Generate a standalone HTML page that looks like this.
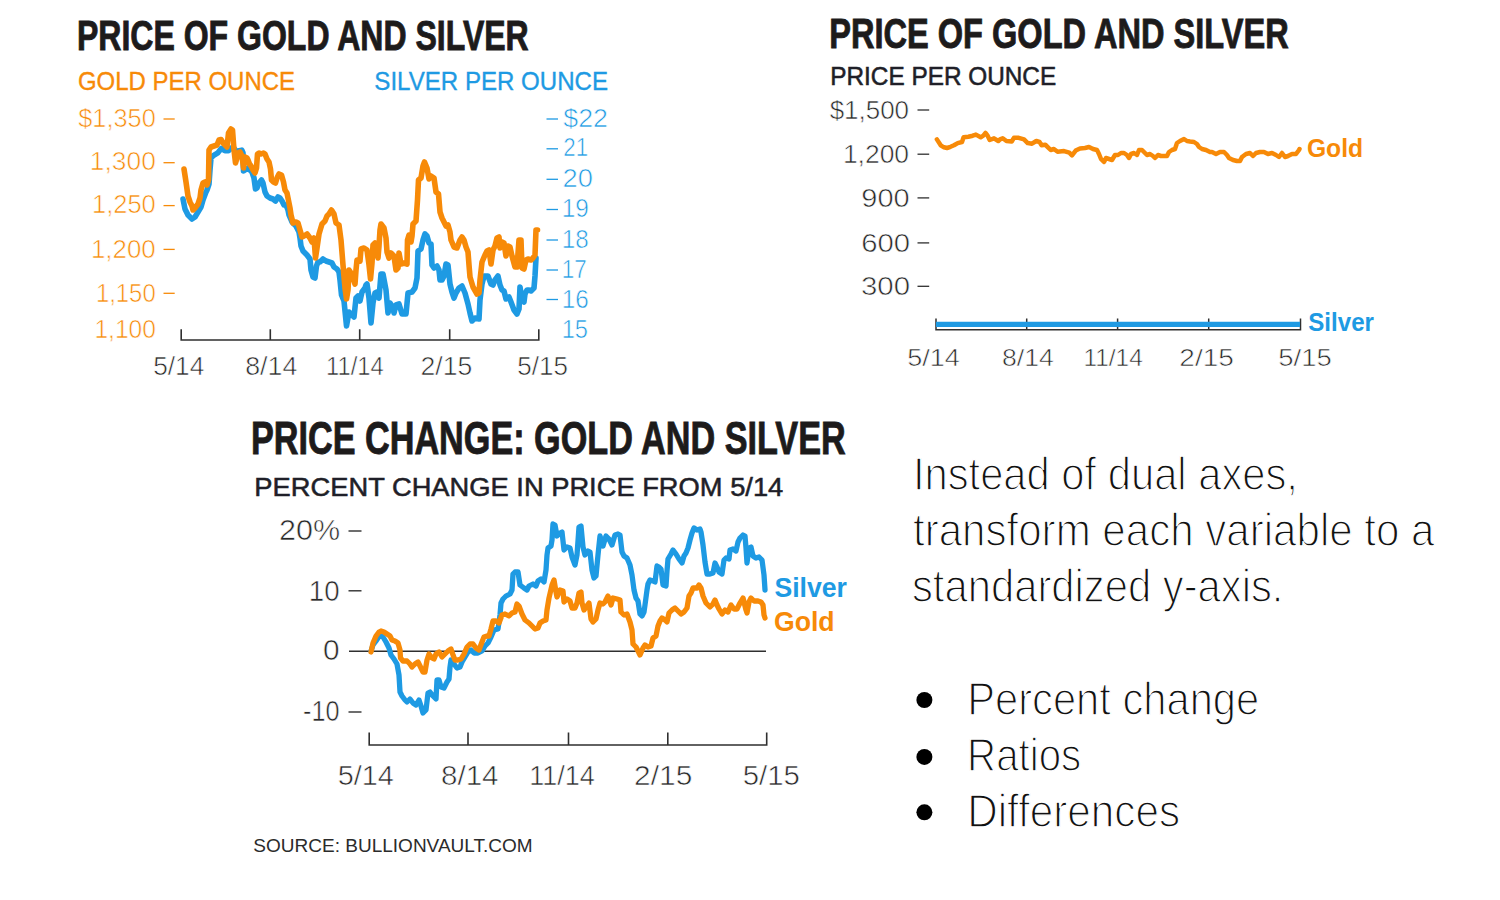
<!DOCTYPE html>
<html><head><meta charset="utf-8"><style>
html,body{margin:0;padding:0;background:#fff;width:1500px;height:900px;overflow:hidden}
svg{display:block}
text{font-family:"Liberation Sans",sans-serif}
.ttl{stroke:#1d1b1b;stroke-width:0.9}
.lt{stroke:#fff;stroke-width:1.4}
.thin{stroke:#fff;stroke-width:0.6}
.sub{stroke:#1f1f28;stroke-width:0.55}
.subo{stroke:#F78A08;stroke-width:0.35}
.subb{stroke:#1E9AE3;stroke-width:0.35}
</style></head><body>
<svg width="1500" height="900" viewBox="0 0 1500 900">
<rect width="1500" height="900" fill="#fff"/>
<line x1="163.5" y1="119" x2="174.7" y2="119" stroke="#F78A08" stroke-width="1.3"/>
<line x1="163.5" y1="162.7" x2="174.7" y2="162.7" stroke="#F78A08" stroke-width="1.3"/>
<line x1="163.5" y1="205.6" x2="174.7" y2="205.6" stroke="#F78A08" stroke-width="1.3"/>
<line x1="163.5" y1="249.4" x2="174.7" y2="249.4" stroke="#F78A08" stroke-width="1.3"/>
<line x1="163.5" y1="293.3" x2="174.7" y2="293.3" stroke="#F78A08" stroke-width="1.3"/>
<line x1="546.5" y1="119" x2="558" y2="119" stroke="#1E9AE3" stroke-width="1.3"/>
<line x1="546.5" y1="148.8" x2="558" y2="148.8" stroke="#1E9AE3" stroke-width="1.3"/>
<line x1="546.5" y1="179.3" x2="558" y2="179.3" stroke="#1E9AE3" stroke-width="1.3"/>
<line x1="546.5" y1="209.5" x2="558" y2="209.5" stroke="#1E9AE3" stroke-width="1.3"/>
<line x1="546.5" y1="240" x2="558" y2="240" stroke="#1E9AE3" stroke-width="1.3"/>
<line x1="546.5" y1="270" x2="558" y2="270" stroke="#1E9AE3" stroke-width="1.3"/>
<line x1="546.5" y1="299.5" x2="558" y2="299.5" stroke="#1E9AE3" stroke-width="1.3"/>
<path d="M181.2 329.2 V340 H538.8 V329.2 M270.3 329.2 V340 M359.7 329.2 V340 M449.7 329.2 V340" fill="none" stroke="#2f2f2f" stroke-width="1.6"/>
<polyline points="183,199 185,209 188,215 192,219 195,217 198,212 201,207 203,200 206,192 207,190 209,184 210,170 211,158 213.3,155.6 217.8,152.9 221.3,148.4 224.9,150.7 228.4,150.7 230.2,148.9 233,147 236,151 238,151 241.8,150.2 243,152.9 243.5,171 245,170 248,168 250,170 252,172 254,178 255.5,189 257,188 259,183 261.5,180 263,183 265,192 267,196 270,198 273,199 275.5,201 278,197 280,198 282,201 284,205 286,205 288,210 289,215 292,222 296,226 299,232 300,238 301,246 303,251 307,255 310,259 311,270 313,277 315,278 316.5,266 318,262 320,262 323,259 326,261 329,262 332,263 334,267 337,269 339,272 340,280 341.5,295 344,301 345.5,316 346.5,326 349,312 351,314 354,317 356,298 358,296 360,301 362,292 365,288 366,285 367,284 369,298 371,323 373,303 375,293 377,292 379,298 381,274 383,274 386,290 388,313 390,303 393,308 394,313 396,305 399,304 402,314 406,314 408,293 412,292 415,288 417,278 418,251 421,249 423,240 425,234 427,236 429,243 431,244 432,265 434,268 437,266 439,270 440,280 442,280 444,276 446,264 448,265 450,284 452,292 454,298 456,293 459,288 462,286 465,293 468,304 470,313 472,321 475,318 479,319 480,300 482,284 484,276 488,276 491,284 493,285 495,280 498,276 500,285 502,290 504,291 506,299 509,297 511,302 514,310 517,314 519,309 520,287 522,300 524,302 525,294 527,290 529,290 531,291 534,288 535,276 536,258" fill="none" stroke="#1E9AE3" stroke-width="5.6" stroke-linejoin="round" stroke-linecap="round"/>
<polyline points="184,169 186,182 188,196 190,202 192,206 193,210 195,208 198,204 200,198 201,190 203,183 205,182 207,185 208.5,180 209,150 211,147 214,146 217,145 219,140 221,139.5 223,143 225,145 227,147 228.5,133 231,129 232.5,130 234,150 235.5,163 237,158 238,153 240,152 242,156 243.5,168 245,157 247,158 248,160 249.5,164 251,166 253,170 255,173 256.5,168 257.5,154 259,153 261,154 263.5,153 265,154 267,159 269,162 270.5,169 271.5,180 273.5,182 275.5,183 277,178 279,174 281.5,175 283.5,182 285,190 287,193 288,198 290,208 291,215 293,223 296,222 298,223 300,230 302,237 304,236 307,234 310,238 312,242 314,238 315.5,258 317,248 319,234 322,224 325,221 327,216 329,214 331.5,210 334,214 336,223 339,225 341,240 343,265 345,288 346.5,299 348,290 349,270 351,273 353,278 355,284 356,270 357,260 360,261 361,249 364,248 367,250 369,265 370.5,279 372,263 373,245 375,243 378,258 379,246 380,230 381,224 384,228 386,238 387,252 389,258 391,253 394,256 396,270 398,268 399,253 401,264 404,263 407,264 407.5,240 409,235 411,242 412,236 413,224 416,221 417.5,200 418.5,180 421,178 423,166 424.5,162 427,168 429,179 431,176 434,178 436,192 438.5,194 440,212 442,218 444,222 446,226 448,225 450,232 451,240 454,247 457,248 460,240 462,237 464,240 466,247 468,252 469,265 470,277 473,287 477,294 479,293 480,280 482,262 485,255 487,251 489,250 491,264 493,250 495,246 497,238 499,237 500,248 502,242 504,243 506,256 508,246 510,247 512,256 515,267 517,267 519,240 521,240 522,268 524,269 526,260 528,259 531,260 533,258 535,255 536,230 537.5,230" fill="none" stroke="#F78A08" stroke-width="5.6" stroke-linejoin="round" stroke-linecap="round"/>
<line x1="917.5" y1="110" x2="929.2" y2="110" stroke="#2f2f2f" stroke-width="1.3"/>
<line x1="917.5" y1="154.2" x2="929.2" y2="154.2" stroke="#2f2f2f" stroke-width="1.3"/>
<line x1="917.5" y1="197.9" x2="929.2" y2="197.9" stroke="#2f2f2f" stroke-width="1.3"/>
<line x1="917.5" y1="242.9" x2="929.2" y2="242.9" stroke="#2f2f2f" stroke-width="1.3"/>
<line x1="917.5" y1="286.3" x2="929.2" y2="286.3" stroke="#2f2f2f" stroke-width="1.3"/>
<path d="M936 318.5 V329.7 H1300.5 V318.5 M1026.7 318.5 V329.7 M1117.6 318.5 V329.7 M1208.7 318.5 V329.7" fill="none" stroke="#2f2f2f" stroke-width="1.5"/>
<line x1="936" y1="324.4" x2="1300" y2="324.4" stroke="#1E9AE3" stroke-width="5.4"/>
<polyline points="936.9,139.4 940.7,145.3 944,147.3 947,148 950.5,146.8 954,145.3 957.7,143.1 962,142 963.6,137.3 968.4,136.7 972.7,135.7 975.9,134.6 980.7,137.3 983.3,135.7 985.5,133 987.6,135.7 989.7,140 994,138.3 998.3,141 1000,139.4 1002.7,138.3 1006.4,141 1011.7,141.5 1013.9,137.8 1018.7,137.8 1024,139.4 1027.7,143.1 1032,143.7 1036.3,141 1039.5,142 1041.6,145.3 1045.3,144.7 1048,147.4 1050.7,150 1053.9,149 1057.6,151.7 1064,151.1 1069.3,152.7 1072,155.4 1075.7,150.6 1080,148.5 1085,148 1089,147 1093,149 1097,150 1099,154 1101,159 1104,162 1106,158 1109,159 1112,160 1115,155 1118,155 1121,153 1124,153 1127,155 1129,158 1131,154 1134,153 1137,155 1139,150 1142,150 1145,153 1147,155 1150,154 1153,156 1155,158 1158,155 1161,156 1164,156 1167,156 1169,152 1172,150 1175,149 1177,143 1180,141 1184,139 1187,141 1190,141.5 1194,142 1197,144 1199,147 1202,149 1206,150 1210,152 1212,152 1216,154 1220,152 1224,152 1227,155 1229,158 1233,160 1237,161 1240,161 1242,157 1246,154 1250,153 1253,156 1256,153 1260,152 1264,152 1268,154 1272,153 1276,155 1279,157 1282,153 1285,157 1288,156 1292,154 1296,154 1299,150 1299.5,149" fill="none" stroke="#F78A08" stroke-width="4.5" stroke-linejoin="round" stroke-linecap="round"/>
<line x1="348.5" y1="531" x2="361.5" y2="531" stroke="#2f2f2f" stroke-width="1.4"/>
<line x1="348.5" y1="590.8" x2="361.5" y2="590.8" stroke="#2f2f2f" stroke-width="1.4"/>
<line x1="348.5" y1="712" x2="361.5" y2="712" stroke="#2f2f2f" stroke-width="1.4"/>
<line x1="349" y1="651.3" x2="766" y2="651.3" stroke="#2f2f2f" stroke-width="1.5"/>
<path d="M369.2 732.5 V745 H766.7 V732.5 M468 732.5 V745 M568.5 732.5 V745 M667.8 732.5 V745" fill="none" stroke="#2f2f2f" stroke-width="1.6"/>
<polyline points="371,651 373,645 376,641 380,635 383,637 386,642 389,648 391,655 394,659 397,664 399,675 400,692 402,696 405,700 407,702 410,699 413,703 416,705 419,700 421,706 423,713 426,710 428,693 430,692 433,696 436,699 437,680 439,680 441,687 444,688 447,682 449,679 450,667 451,660 454,664 457,668 460,667 462,662 465,657 468,652 471,650 474,653 478,653 482,651 485,646 488,643 491,637 494,630 498,629 500,615 501,603 503,599 506,596 510,594 512,590 513,574 515,572 518,572 520,585 524,588 527,590 529,586 533,584 536,586 538,581 541,579 544,582 546,570 547,555 548,548 551,546 552,540 553,524 555,525 557,536 560,533 562,532 564,550 567,547 570,548 572,557 575,565 577,555 579,527 581,526 583,547 585,555 588,551 590,552 592,570 594,578 596,576 598,555 600,536 603,546 606,536 609,539 612,545 615,535 618,534 620,535 622,552 624,556 627,558 630,565 632,575 634,590 636,598 638,601 640,614 642,616 644,612 645,605 647,590 648,584 650,580 653,581 655,582 657,566 659,567 661,569 663,585 666,586 667,571 668,559 671,554 673,550 676,554 679,559 682,563 684,556 686,553 688,548 690,540 692,533 694,528 697,530 700,529 701,532 703,545 705,562 707,574 710,574 713,573 715,563 717,567 719,572 722,574 724,560 726,558 729,559 730,550 733,549 736,551 738,542 740,538 743,535 745,536 746,548 747,563 749,548 751,547 753,556 756,558 759,557 762,560 764,575 765,590" fill="none" stroke="#1E9AE3" stroke-width="5.3" stroke-linejoin="round" stroke-linecap="round"/>
<polyline points="371,652 373,643 376,636 379,632 381,631 384,632 387,634 390,636 392,640 395,641 398,643 400,650 400.5,658 403,661 407,661 410,664 412,667 415,664 418,662 420,666 423,672 425,672 427,660 429,654 432,658 434,659 436,654 439,652 442,657 445,654 448,651 451,649 453,655 455,660 458,660 461,659 464,654 467,647 470,644 473,644 476,648 479,650 482,642 484,637 487,636 489,636 491,629 493,621 496,621 499,623 502,615 505,614 509,616 512,613 515,612 517,604 519,606 522,614 525,620 529,623 532,626 535,629 538,628 540,623 543,621 546,620 547,610 549,598 552,585 554,580 556,592 557,597 560,590 563,591 564,602 567,599 570,601 572,608 575,608 577,603 579,593 581,592 582,603 584,610 586,607 589,603 591,619 593,622 596,619 598,610 600,603 603,604 605,602 608,596 611,605 613,598 617,599 620,600 621,612 624,615 627,614 630,622 632,630 633,644 636,647 640,655 643,648 645,645 648,647 651,646 653,638 656,636 658,626 660,621 662,618 665,620 667,622 669,613 672,610 675,608 678,611 681,614 684,612 687,608 689,596 691,593 693,588 697,588 699,585 701,588 703,596 706,603 710,607 713,604 715,600 717,605 719,609 722,614 725,610 728,612 731,605 734,609 737,609 740,603 743,598 746,610 747,613 749,602 751,598 754,601 758,601 761,602 763,605 764,615 765,618" fill="none" stroke="#F78A08" stroke-width="5.3" stroke-linejoin="round" stroke-linecap="round"/>
<circle cx="924.4" cy="700" r="8" fill="#000"/>
<circle cx="924.4" cy="756.9" r="8" fill="#000"/>
<circle cx="924.4" cy="812.3" r="8" fill="#000"/>
<text x="77.00" y="49.7" font-size="42.6" font-weight="bold" fill="#1d1b1b" textLength="451.71" lengthAdjust="spacingAndGlyphs" class="ttl">PRICE OF GOLD AND SILVER</text>
<text x="77.99" y="90.2" font-size="25.7" font-weight="normal" fill="#F78A08" textLength="217.02" lengthAdjust="spacingAndGlyphs" class="subo">GOLD PER OUNCE</text>
<text x="374.37" y="90.3" font-size="25.7" font-weight="normal" fill="#1E9AE3" textLength="233.68" lengthAdjust="spacingAndGlyphs" class="subb">SILVER PER OUNCE</text>
<text x="78.25" y="126.7" font-size="25" font-weight="normal" fill="#F78A08" textLength="77.53" lengthAdjust="spacingAndGlyphs" class="thin">$1,350</text>
<text x="89.88" y="170.4" font-size="25" font-weight="normal" fill="#F78A08" textLength="65.92" lengthAdjust="spacingAndGlyphs" class="thin">1,300</text>
<text x="91.97" y="213.3" font-size="25" font-weight="normal" fill="#F78A08" textLength="63.83" lengthAdjust="spacingAndGlyphs" class="thin">1,250</text>
<text x="90.97" y="257.5" font-size="25" font-weight="normal" fill="#F78A08" textLength="64.74" lengthAdjust="spacingAndGlyphs" class="thin">1,200</text>
<text x="95.88" y="301.6" font-size="25" font-weight="normal" fill="#F78A08" textLength="59.84" lengthAdjust="spacingAndGlyphs" class="thin">1,150</text>
<text x="94.46" y="338.2" font-size="25" font-weight="normal" fill="#F78A08" textLength="61.46" lengthAdjust="spacingAndGlyphs" class="thin">1,100</text>
<text x="563.34" y="126.7" font-size="25" font-weight="normal" fill="#1E9AE3" textLength="44.67" lengthAdjust="spacingAndGlyphs" class="thin">$22</text>
<text x="563.24" y="156.2" font-size="25" font-weight="normal" fill="#1E9AE3" textLength="24.86" lengthAdjust="spacingAndGlyphs" class="thin">21</text>
<text x="562.50" y="187.2" font-size="25" font-weight="normal" fill="#1E9AE3" textLength="30.34" lengthAdjust="spacingAndGlyphs" class="thin">20</text>
<text x="561.69" y="217" font-size="25" font-weight="normal" fill="#1E9AE3" textLength="27.14" lengthAdjust="spacingAndGlyphs" class="thin">19</text>
<text x="561.70" y="247.6" font-size="25" font-weight="normal" fill="#1E9AE3" textLength="26.97" lengthAdjust="spacingAndGlyphs" class="thin">18</text>
<text x="561.67" y="277.5" font-size="25" font-weight="normal" fill="#1E9AE3" textLength="25.02" lengthAdjust="spacingAndGlyphs" class="thin">17</text>
<text x="561.70" y="308.2" font-size="25" font-weight="normal" fill="#1E9AE3" textLength="26.97" lengthAdjust="spacingAndGlyphs" class="thin">16</text>
<text x="561.73" y="338.4" font-size="25" font-weight="normal" fill="#1E9AE3" textLength="26.30" lengthAdjust="spacingAndGlyphs" class="thin">15</text>
<text x="153.24" y="375.1" font-size="25.5" font-weight="normal" fill="#282828" textLength="51.09" lengthAdjust="spacingAndGlyphs" class="thin">5/14</text>
<text x="245.23" y="375.1" font-size="25.5" font-weight="normal" fill="#282828" textLength="52.13" lengthAdjust="spacingAndGlyphs" class="thin">8/14</text>
<text x="326.07" y="375.1" font-size="25.5" font-weight="normal" fill="#282828" textLength="57.71" lengthAdjust="spacingAndGlyphs" class="thin">11/14</text>
<text x="420.48" y="375.1" font-size="25.5" font-weight="normal" fill="#282828" textLength="51.76" lengthAdjust="spacingAndGlyphs" class="thin">2/15</text>
<text x="517.39" y="375.1" font-size="25.5" font-weight="normal" fill="#282828" textLength="50.66" lengthAdjust="spacingAndGlyphs" class="thin">5/15</text>
<text x="829.19" y="47.5" font-size="43.2" font-weight="bold" fill="#1d1b1b" textLength="459.51" lengthAdjust="spacingAndGlyphs" class="ttl">PRICE OF GOLD AND SILVER</text>
<text x="830.28" y="85" font-size="25" font-weight="normal" fill="#1f1f28" textLength="225.93" lengthAdjust="spacingAndGlyphs" class="sub">PRICE PER OUNCE</text>
<text x="829.66" y="118.7" font-size="26.6" font-weight="normal" fill="#282828" textLength="79.36" lengthAdjust="spacingAndGlyphs" class="thin">$1,500</text>
<text x="842.90" y="162.5" font-size="26.6" font-weight="normal" fill="#282828" textLength="66.15" lengthAdjust="spacingAndGlyphs" class="thin">1,200</text>
<text x="861.33" y="206.7" font-size="26.6" font-weight="normal" fill="#282828" textLength="48.34" lengthAdjust="spacingAndGlyphs" class="thin">900</text>
<text x="861.19" y="251.6" font-size="26.6" font-weight="normal" fill="#282828" textLength="48.87" lengthAdjust="spacingAndGlyphs" class="thin">600</text>
<text x="861.01" y="295.3" font-size="26.6" font-weight="normal" fill="#282828" textLength="49.05" lengthAdjust="spacingAndGlyphs" class="thin">300</text>
<text x="907.20" y="366.3" font-size="24.5" font-weight="normal" fill="#282828" textLength="52.60" lengthAdjust="spacingAndGlyphs" class="thin">5/14</text>
<text x="1001.97" y="366.3" font-size="24.5" font-weight="normal" fill="#282828" textLength="51.82" lengthAdjust="spacingAndGlyphs" class="thin">8/14</text>
<text x="1083.41" y="366.3" font-size="24.5" font-weight="normal" fill="#282828" textLength="59.37" lengthAdjust="spacingAndGlyphs" class="thin">11/14</text>
<text x="1179.38" y="366.3" font-size="24.5" font-weight="normal" fill="#282828" textLength="54.50" lengthAdjust="spacingAndGlyphs" class="thin">2/15</text>
<text x="1278.37" y="366.3" font-size="24.5" font-weight="normal" fill="#282828" textLength="53.43" lengthAdjust="spacingAndGlyphs" class="thin">5/15</text>
<text x="1306.94" y="156.5" font-size="26.5" font-weight="bold" fill="#F78A08" textLength="56.18" lengthAdjust="spacingAndGlyphs">Gold</text>
<text x="1308.26" y="331.3" font-size="26.5" font-weight="bold" fill="#1E9AE3" textLength="65.74" lengthAdjust="spacingAndGlyphs">Silver</text>
<text x="250.99" y="454.2" font-size="46.9" font-weight="bold" fill="#1d1b1b" textLength="594.71" lengthAdjust="spacingAndGlyphs" class="ttl">PRICE CHANGE: GOLD AND SILVER</text>
<text x="254.39" y="496.2" font-size="26.4" font-weight="normal" fill="#1f1f28" textLength="528.91" lengthAdjust="spacingAndGlyphs" class="sub">PERCENT CHANGE IN PRICE FROM 5/14</text>
<text x="278.93" y="540" font-size="30" font-weight="normal" fill="#282828" textLength="61.13" lengthAdjust="spacingAndGlyphs" class="thin">20%</text>
<text x="308.77" y="600.9" font-size="30" font-weight="normal" fill="#282828" textLength="30.78" lengthAdjust="spacingAndGlyphs" class="thin">10</text>
<text x="322.99" y="659.7" font-size="30" font-weight="normal" fill="#282828" textLength="16.57" lengthAdjust="spacingAndGlyphs" class="thin">0</text>
<text x="303.04" y="721" font-size="30" font-weight="normal" fill="#282828" textLength="36.44" lengthAdjust="spacingAndGlyphs" class="thin">-10</text>
<text x="337.71" y="785" font-size="27.5" font-weight="normal" fill="#282828" textLength="56.09" lengthAdjust="spacingAndGlyphs" class="thin">5/14</text>
<text x="440.96" y="785" font-size="27.5" font-weight="normal" fill="#282828" textLength="57.60" lengthAdjust="spacingAndGlyphs" class="thin">8/14</text>
<text x="529.14" y="785" font-size="27.5" font-weight="normal" fill="#282828" textLength="65.75" lengthAdjust="spacingAndGlyphs" class="thin">11/14</text>
<text x="634.11" y="785" font-size="27.5" font-weight="normal" fill="#282828" textLength="58.19" lengthAdjust="spacingAndGlyphs" class="thin">2/15</text>
<text x="742.67" y="785" font-size="27.5" font-weight="normal" fill="#282828" textLength="57.13" lengthAdjust="spacingAndGlyphs" class="thin">5/15</text>
<text x="774.45" y="596.5" font-size="27.3" font-weight="bold" fill="#1E9AE3" textLength="72.55" lengthAdjust="spacingAndGlyphs">Silver</text>
<text x="773.94" y="630.5" font-size="27" font-weight="bold" fill="#F78A08" textLength="60.68" lengthAdjust="spacingAndGlyphs">Gold</text>
<text x="253.38" y="852.4" font-size="18.5" font-weight="normal" fill="#2b2b2b" textLength="279.23" lengthAdjust="spacingAndGlyphs">SOURCE: BULLIONVAULT.COM</text>
<text x="912.91" y="490" font-size="45.5" font-weight="normal" fill="#111" textLength="385.00" lengthAdjust="spacingAndGlyphs" class="lt">Instead of dual axes,</text>
<text x="913.00" y="546" font-size="45.5" font-weight="normal" fill="#111" textLength="521.51" lengthAdjust="spacingAndGlyphs" class="lt">transform each variable to a</text>
<text x="911.97" y="602" font-size="45.5" font-weight="normal" fill="#111" textLength="371.50" lengthAdjust="spacingAndGlyphs" class="lt">standardized y-axis.</text>
<text x="967.22" y="715.3" font-size="45.5" font-weight="normal" fill="#111" textLength="292.02" lengthAdjust="spacingAndGlyphs" class="lt">Percent change</text>
<text x="967.12" y="771" font-size="45.5" font-weight="normal" fill="#111" textLength="114.00" lengthAdjust="spacingAndGlyphs" class="lt">Ratios</text>
<text x="967.20" y="826.8" font-size="45.5" font-weight="normal" fill="#111" textLength="212.85" lengthAdjust="spacingAndGlyphs" class="lt">Differences</text>
</svg>
</body></html>
